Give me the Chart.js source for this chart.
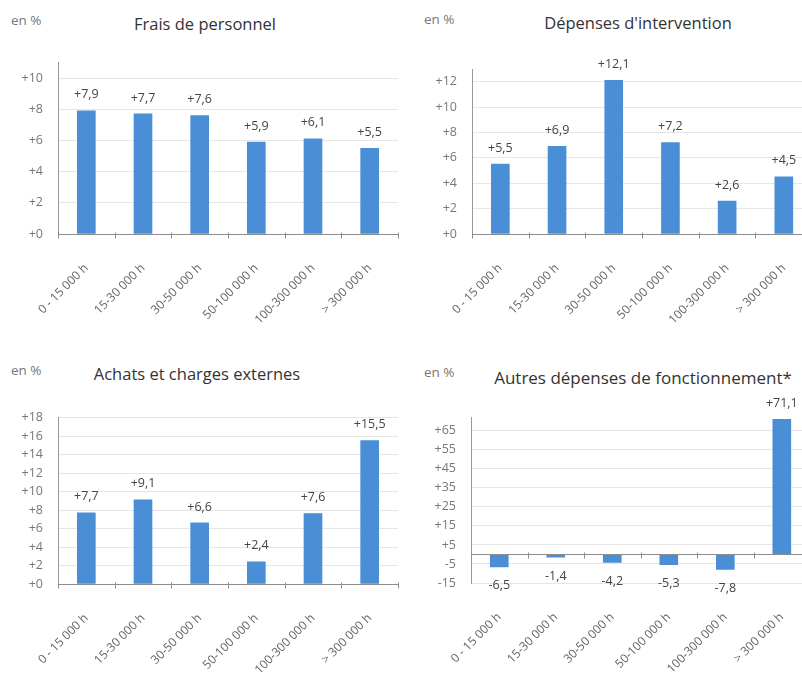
<!DOCTYPE html>
<html lang="fr">
<head>
<meta charset="utf-8">
<title>Évolution des dépenses par tranche</title>
<script src="https://cdn.jsdelivr.net/npm/chart.js@4.4.1/dist/chart.umd.min.js"></script>
<style>
  html, body { margin: 0; padding: 0; background: #fff; width: 802px; height: 675px; overflow: hidden; position: relative; }
  canvas { position: absolute; }
  .unite { position: absolute; font: 13.5px "Open Sans", sans-serif; color: #777; white-space: nowrap; transform: translateY(-50%); }
  .titre { position: absolute; font: 16.5px "Open Sans", sans-serif; color: #333; white-space: nowrap; transform: translate(-50%, -50%); }
</style>
</head>
<body>
<div class="unite" style="left:11px; top:20px;">en %</div>
<div class="titre" style="left:205px; top:23px;">Frais de personnel</div>
<div class="unite" style="left:424px; top:19px;">en %</div>
<div class="titre" style="left:638px; top:22px;">Dépenses d'intervention</div>
<div class="unite" style="left:11px; top:370px;">en %</div>
<div class="titre" style="left:197px; top:373px;">Achats et charges externes</div>
<div class="unite" style="left:424px; top:372px;">en %</div>
<div class="titre" style="left:643px; top:377px; font-size:17px;">Autres dépenses de fonctionnement*</div>

<canvas id="graphPersonnel" width="400" height="290" style="left:0; top:40px;"></canvas>
<canvas id="graphIntervention" width="413" height="290" style="left:400px; top:40px;"></canvas>
<canvas id="graphAchats" width="400" height="280" style="left:0; top:395px;"></canvas>
<canvas id="graphAutres" width="411" height="280" style="left:400px; top:395px;"></canvas>

<script>
// Tranches de population (catégories)
const tranches = ["0 - 15 000 h", "15-30 000 h", "30-50 000 h", "50-100 000 h", "100-300 000 h", "> 300 000 h"];

// Évolutions en %
const fraisPersonnel = [7.9, 7.7, 7.6, 5.9, 6.1, 5.5];
const depensesIntervention = [5.5, 6.9, 12.1, 7.2, 2.6, 4.5];
const achatsCharges = [7.7, 9.1, 6.6, 2.4, 7.6, 15.5];
const autresDepenses = [-6.5, -1.4, -4.2, -5.3, -7.8, 71.1];

// Graduations des axes verticaux
const gradPersonnel = [0, 2, 4, 6, 8, 10];
const gradIntervention = [0, 2, 4, 6, 8, 10, 12];
const gradAchats = [0, 2, 4, 6, 8, 10, 12, 14, 16, 18];
const gradAutres = [-15, -5, 5, 15, 25, 35, 45, 55, 65];

const police = "'Open Sans', sans-serif";
Chart.defaults.font.family = police;

function signe(v) {
  return (v >= 0 ? "+" : "") + v;
}

// Axe horizontal au niveau de zéro + étiquettes de valeurs
const etiquettes = {
  id: "etiquettes",
  afterDatasetsDraw(chart) {
    const ctx = chart.ctx;
    const x = chart.scales.x;
    const y = chart.scales.y;
    const zone = chart.chartArea;
    const y0 = Math.round(y.getPixelForValue(0)) + 0.5;

    ctx.save();
    ctx.strokeStyle = "#8c8c8c";
    ctx.lineWidth = 1;
    ctx.beginPath();
    ctx.moveTo(zone.left, y0);
    ctx.lineTo(zone.right, y0);
    for (let i = 0; i <= chart.data.labels.length; i++) {
      const bx = Math.round(x.getPixelForValue(i - 0.5)) + 0.5;
      ctx.moveTo(bx, y0 - 2);
      ctx.lineTo(bx, y0 + 4);
    }
    ctx.stroke();

    ctx.fillStyle = "#444";
    ctx.font = "12.5px " + police;
    ctx.textAlign = "center";
    ctx.textBaseline = "middle";
    const valeurs = chart.data.datasets[0].data;
    chart.getDatasetMeta(0).data.forEach((barre, i) => {
      const v = valeurs[i];
      const texte = (v >= 0 ? "+" : "") + v.toFixed(1).replace(".", ",");
      ctx.fillText(texte, barre.x, v >= 0 ? barre.y - 16 : barre.y + 19);
    });
    ctx.restore();
  }
};

function creerGraphique(id, valeurs, graduations, min, max, largeurY, hauteurX, marge) {
  new Chart(document.getElementById(id), {
    type: "bar",
    data: {
      labels: tranches,
      datasets: [{
        data: valeurs,
        backgroundColor: "#4a8fd6",
        barThickness: 18
      }]
    },
    options: {
      responsive: false,
      animation: false,
      layout: { padding: marge },
      plugins: {
        legend: { display: false },
        tooltip: { enabled: false }
      },
      scales: {
        x: {
          grid: { display: false },
          border: { display: false },
          ticks: {
            minRotation: 45,
            maxRotation: 45,
            autoSkip: false,
            padding: 19,
            color: "#666",
            font: { size: 12 }
          },
          afterFit: s => { s.height = hauteurX; }
        },
        y: {
          min: min,
          max: max,
          afterBuildTicks: s => { s.ticks = graduations.map(v => ({ value: v })); },
          ticks: {
            padding: 15,
            color: "#777",
            font: { size: 12.5 },
            callback: v => signe(v)
          },
          grid: {
            drawTicks: false,
            color: "#e6e6e6"
          },
          border: { color: "#999" },
          afterFit: s => { s.width = largeurY; }
        }
      }
    },
    plugins: [etiquettes]
  });
}

creerGraphique("graphPersonnel", fraisPersonnel, gradPersonnel, 0, 11, 58, 96, { top: 17, right: 2 });
creerGraphique("graphIntervention", depensesIntervention, gradIntervention, 0, 13, 72, 96, { top: 29, right: 0 });
creerGraphique("graphAchats", achatsCharges, gradAchats, 0, 18, 58, 91, { top: 11, right: 2 });
creerGraphique("graphAutres", autresDepenses, gradAutres, -15, 72, 71, 92, { top: 12, right: 0 });
</script>
</body>
</html>
